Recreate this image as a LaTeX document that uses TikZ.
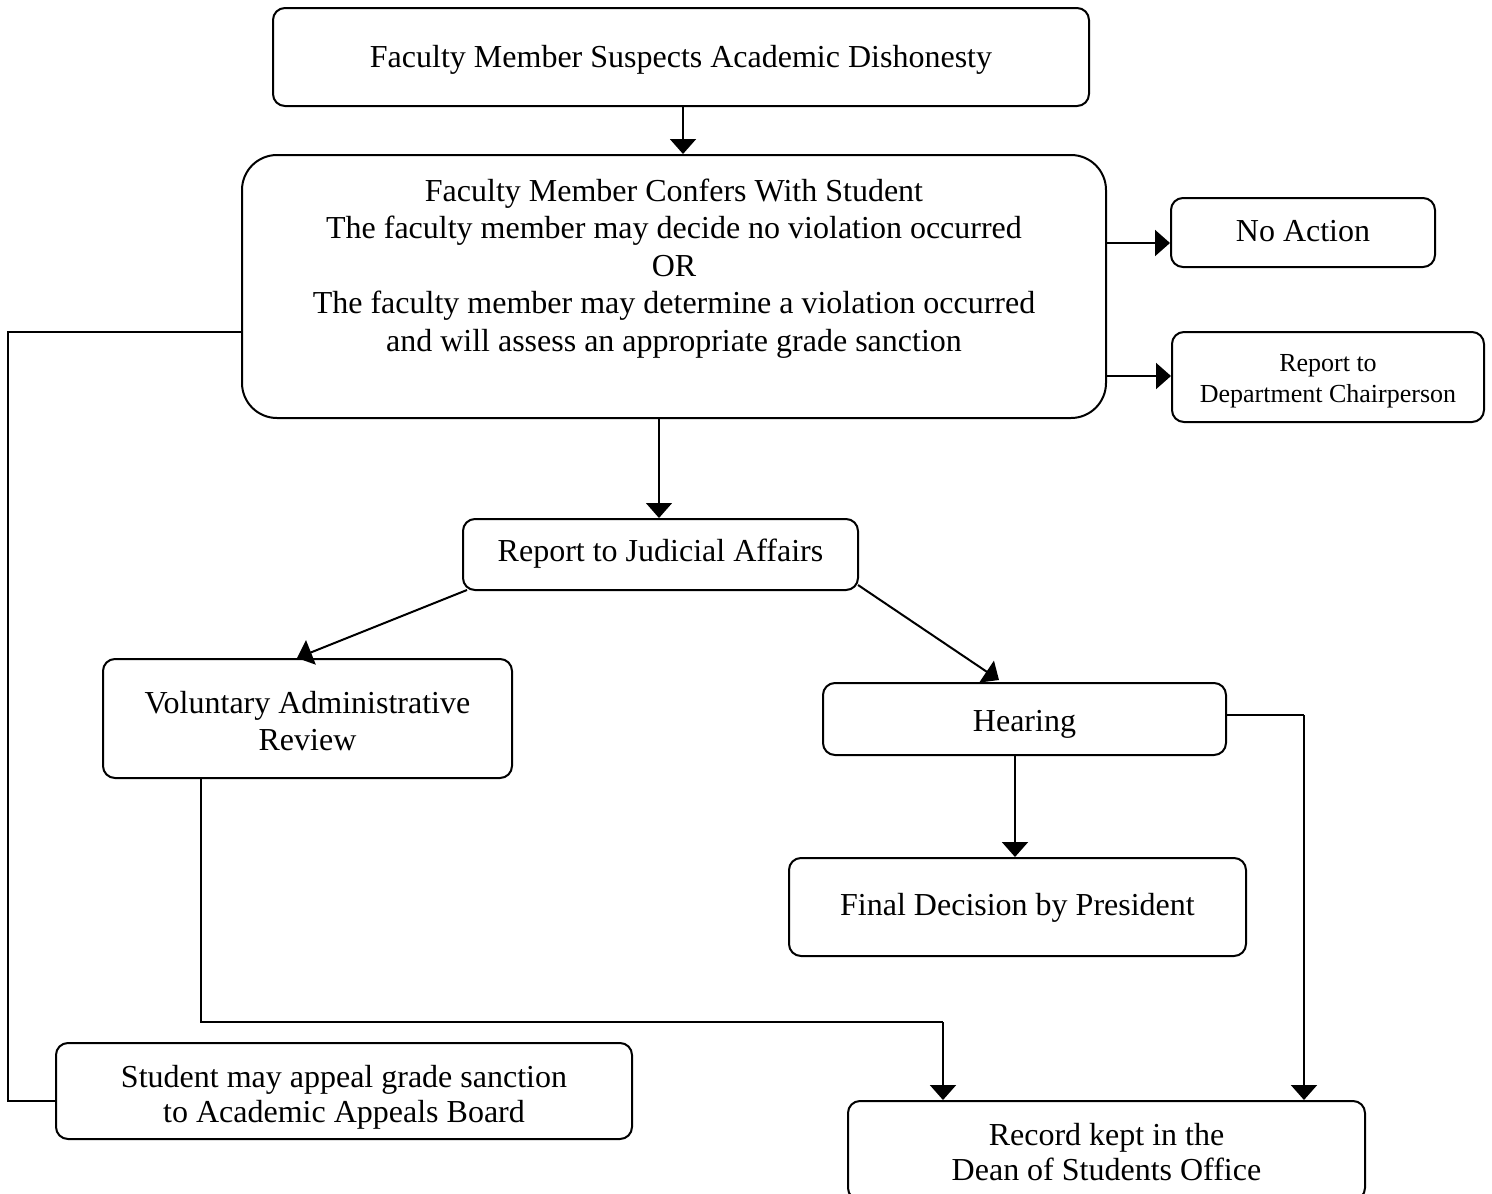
\documentclass[tikz,border=0pt]{standalone}
\usepackage{fontspec}
\setmainfont{Liberation Serif}
\usetikzlibrary{arrows.meta,calc}
\begin{document}
\begin{tikzpicture}[x=1pt,y=-1pt,
  box/.style={draw, line width=2pt, rounded corners=12pt, inner sep=0pt},
  txt/.style={inner sep=0pt, align=center, anchor=base, font=\fontsize{32}{37}\selectfont},
  arr/.style={line width=2pt, -{Triangle[length=15pt,width=26pt]}},
  thinarr/.style={line width=1.5pt, -{Triangle[length=15pt,width=26pt]}},
  ln/.style={line width=2pt},
  thinln/.style={line width=1.5pt}]
\useasboundingbox (0,0) rectangle (1492,1194);

% boxes
\node[box, minimum width=816pt, minimum height=98pt] (b1) at (681,57) {};
\node[box, rounded corners=35pt, minimum width=864pt, minimum height=263pt] (b2) at (674,286.5) {};
\node[box, minimum width=264pt, minimum height=69pt] (na) at (1303,232.5) {};
\node[box, minimum width=312pt, minimum height=90pt] (dc) at (1328,377) {};
\node[box, minimum width=395pt, minimum height=71pt] (j) at (660.5,554.5) {};
\node[box, minimum width=409pt, minimum height=119pt] (v) at (307.5,718.5) {};
\node[box, minimum width=403pt, minimum height=72pt] (h) at (1024.5,719) {};
\node[box, minimum width=457pt, minimum height=98pt] (f) at (1017.5,907) {};
\node[box, minimum width=576pt, minimum height=96pt] (s) at (344,1091) {};
\node[box, minimum width=517pt, minimum height=99pt] (r) at (1106.5,1150.5) {};

% texts (anchor=base: baseline of the last line)
\node[txt] (b1t) at (681,67) {Faculty Member Suspects Academic Dishonesty};
\node[txt, font=\fontsize{32}{37.5}\selectfont] (b2t) at (674,351) {Faculty Member Confers With Student\\The faculty member may decide no violation occurred\\OR\\The faculty member may determine a violation occurred\\and will assess an appropriate grade sanction};
\node[txt] (nat) at (1303,241) {No Action};
\node[txt, font=\fontsize{26}{31}\selectfont] (dct) at (1328,402) {Report to\\Department Chairperson};
\node[txt] (jt) at (660.5,561) {Report to Judicial Affairs};
\node[txt] (vt) at (307.5,750) {Voluntary Administrative\\Review};
\node[txt] (ht) at (1024.5,731) {Hearing};
\node[txt] (ft) at (1017.5,915) {Final Decision by President};
\node[txt, font=\fontsize{32}{35}\selectfont] (st) at (344,1122) {Student may appeal grade sanction\\to Academic Appeals Board};
\node[txt, font=\fontsize{32}{35}\selectfont] (rt) at (1106.5,1180) {Record kept in the\\Dean of Students Office};

% connector corners
\coordinate (vin) at (297,658);
\coordinate (hin) at (999,680);
\coordinate (jsw) at (467,590);
\coordinate (jse) at (858,585);
\coordinate (hc) at (1304,715);
\coordinate (vc1) at (201,1022);
\coordinate (vc2) at (943,1022);
\coordinate (lc1) at (8,332);
\coordinate (lc2) at (8,1101);

\draw[arr] ([xshift=2pt]b1.south) -- ([xshift=2pt]b1.south |- b2.north);
\draw[arr] (b2.east |- 0,243) -- (na.west |- 0,243);
\draw[arr] (b2.east |- 0,376) -- (dc.west |- 0,376);
\draw[thinarr] (b2.south -| 659,0) -- (j.north -| 659,0);
\draw[arr] (jsw) -- (vin);
\draw[arr] (jse) -- (hin);
\draw[arr] (h.south -| 1015,0) -- (f.north -| 1015,0);
\draw[thinln] (h.east |- hc) -- (hc);
\draw[arr] (hc) -- (r.north -| hc);
\draw[ln] (v.south -| vc1) -- (vc1) -- (vc2);
\draw[arr] (vc2) -- (r.north -| vc2);
\draw[ln] (b2.west |- lc1) -- (lc1) -- (lc2) -- (s.west |- lc2);
\end{tikzpicture}
\end{document}
